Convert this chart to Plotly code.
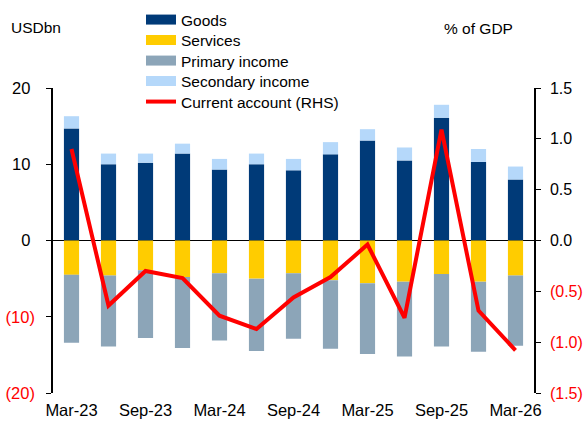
import plotly.graph_objects as go

quarters = ["Mar-23", "Jun-23", "Sep-23", "Dec-23", "Mar-24", "Jun-24", "Sep-24",
            "Dec-24", "Mar-25", "Jun-25", "Sep-25", "Dec-25", "Mar-26"]
goods = [14.7, 10.0, 10.2, 11.4, 9.3, 10.0, 9.2, 11.3, 13.1, 10.5, 16.1, 10.3, 8.0]
services = [-4.5, -4.6, -3.9, -4.8, -4.3, -5.0, -4.3, -5.2, -5.6, -5.4, -4.4, -5.4, -4.6]
primary_income = [-8.9, -9.3, -8.9, -9.3, -8.8, -9.5, -8.6, -9.0, -9.3, -9.8, -9.5, -9.2, -9.2]
secondary_income = [1.6, 1.4, 1.2, 1.3, 1.4, 1.4, 1.5, 1.6, 1.5, 1.7, 1.7, 1.7, 1.7]
current_account = [0.90, -0.64, -0.30, -0.37, -0.74, -0.87, -0.56, -0.36, -0.04, -0.76, 1.09, -0.69, -1.08]

left_ticks = [-20, -10, 0, 10, 20]
left_ticktext = ["(20)", "(10)", "0\u00a0", "10\u00a0", "20\u00a0"]
right_ticks = [-1.5, -1.0, -0.5, 0.0, 0.5, 1.0, 1.5]
right_ticktext = ["(1.5)", "(1.0)", "(0.5)", "0.0", "0.5", "1.0", "1.5"]
xtick_labels = quarters[::2]

RED = "#FF0000"
colors = {"Goods": "#003A78", "Services": "#FFCC00",
          "Primary income": "#8CA5B8", "Secondary income": "#B5D8FA"}
FONT = "Liberation Sans, Arial, sans-serif"
TICK_SIZE = 16.5
RIGHT_TICK_SIZE = 16
TEXT_SIZE = 15.5


def color_label(t):
    return f"<span style='color:{RED}'>{t}</span>" if t.startswith("(") else t


fig = go.Figure()
series = [("Goods", goods), ("Services", services),
          ("Primary income", primary_income), ("Secondary income", secondary_income)]
for name, vals in series:
    fig.add_trace(go.Bar(x=quarters, y=vals, name=name, marker_color=colors[name],
                         marker_line_width=0, width=0.41, showlegend=False))

legend_names = ["legend", "legend2", "legend3", "legend4", "legend5"]

# legend entries (wide swatches), each in its own legend row
for i, (name, _) in enumerate(series):
    fig.add_trace(go.Scatter(x=[None], y=[None], mode="lines", name=name,
                             legend=legend_names[i],
                             line=dict(color=colors[name], width=10)))

fig.add_trace(go.Scatter(x=quarters, y=current_account, mode="lines",
                         name="Current account (RHS)", yaxis="y2",
                         legend=legend_names[4],
                         line=dict(color=RED, width=4)))

# plot area: x 53..534 px, y 88..393 px
row_px = [20, 40.5, 61, 81.5, 102]
legend_layout = {}
for i, ln in enumerate(legend_names):
    legend_layout[ln] = dict(x=(141 - 53) / 481, y=(393 - row_px[i]) / 305,
                             xanchor="left", yanchor="middle",
                             bgcolor="rgba(0,0,0,0)", font=dict(size=TEXT_SIZE))

fig.update_layout(
    width=584, height=421,
    margin=dict(l=53, r=50, t=88, b=28, autoexpand=False),
    barmode="relative",
    plot_bgcolor="white", paper_bgcolor="white",
    font=dict(family=FONT, size=TEXT_SIZE, color="black"),
    showlegend=True,
    xaxis=dict(type="category", range=[-0.5, 12.5], tickvals=xtick_labels,
               ticktext=xtick_labels, showline=False, ticks="", showgrid=False,
               zeroline=False, tickfont=dict(size=TICK_SIZE), ticklabelstandoff=5),
    yaxis=dict(range=[-20, 20], tickvals=left_ticks,
               ticktext=[color_label(t) for t in left_ticktext],
               showline=True, linecolor="black", linewidth=1.5, ticks="outside",
               ticklen=5, tickcolor="black", showgrid=False, zeroline=True,
               zerolinecolor="black", zerolinewidth=1, ticklabelstandoff=8,
               tickfont=dict(size=TICK_SIZE)),
    yaxis2=dict(range=[-1.5, 1.5], tickvals=right_ticks,
                ticktext=[color_label(t) for t in right_ticktext],
                overlaying="y", side="right", showline=True, linecolor="black",
                linewidth=1.5, ticks="outside", ticklen=5, tickcolor="black",
                showgrid=False, zeroline=False, ticklabelstandoff=6,
                tickfont=dict(size=RIGHT_TICK_SIZE)),
    annotations=[
        dict(text="USDbn", xref="paper", yref="paper", x=(9 - 53) / 481, y=(393 - 27) / 305,
             xanchor="left", yanchor="middle", showarrow=False, font=dict(size=TEXT_SIZE)),
        dict(text="% of GDP", xref="paper", yref="paper", x=(515 - 53) / 481, y=(393 - 28) / 305,
             xanchor="right", yanchor="middle", showarrow=False, font=dict(size=TEXT_SIZE)),
    ],
    **legend_layout,
)

fig.write_html("out.html")
